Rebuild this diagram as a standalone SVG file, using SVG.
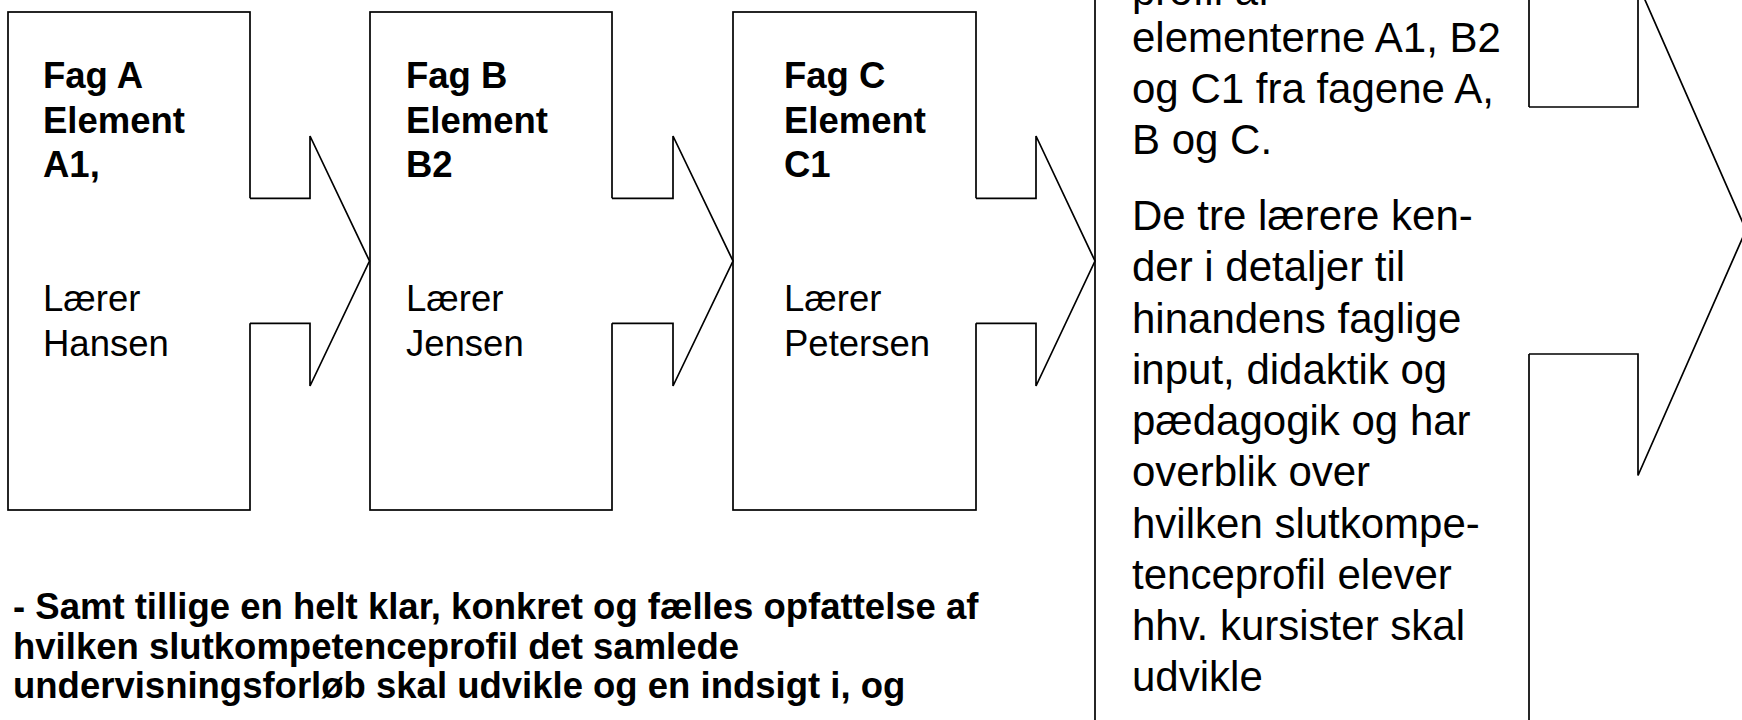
<svg xmlns="http://www.w3.org/2000/svg" width="1742" height="720" viewBox="0 0 1742 720">
<style>
.box{fill:#fff;stroke:#000;stroke-width:1.7}
.line{fill:none;stroke:#000;stroke-width:1.7;stroke-linejoin:miter}
.cover{fill:#fff;stroke:none}
text{font-family:"Liberation Sans",Arial,Helvetica,sans-serif;fill:#000}
.b{font-weight:bold;font-size:36.5px}
.r{font-size:36.5px}
.tb{font-size:42px}
.bot{font-weight:bold;font-size:36.5px}
</style>
<rect width="1742" height="720" fill="#fff"/>
<g id="node-a">
<rect class="box" x="8" y="12" width="242" height="498"/>
<text class="b"><tspan x="43" y="88">Fag A</tspan><tspan x="43" y="132.5">Element</tspan><tspan x="43" y="177">A1,</tspan></text>
<text class="r"><tspan x="43" y="311">Lærer</tspan><tspan x="43" y="356">Hansen</tspan></text>
</g>
<g id="node-b">
<rect class="box" x="370" y="12" width="242" height="498"/>
<text class="b"><tspan x="406" y="88">Fag B</tspan><tspan x="406" y="132.5">Element</tspan><tspan x="406" y="177">B2</tspan></text>
<text class="r"><tspan x="406" y="311">Lærer</tspan><tspan x="406" y="356">Jensen</tspan></text>
</g>
<g id="node-c">
<rect class="box" x="733" y="12" width="243" height="498"/>
<text class="b"><tspan x="784" y="88">Fag C</tspan><tspan x="784" y="132.5">Element</tspan><tspan x="784" y="177">C1</tspan></text>
<text class="r"><tspan x="784" y="311">Lærer</tspan><tspan x="784" y="356">Petersen</tspan></text>
</g>
<g id="node-text">
<rect class="box" x="1095" y="-10" width="434" height="740"/>
<text class="tb">
<tspan x="1132" y="5">profil af</tspan>
<tspan x="1132" y="51.5">elementerne A1, B2</tspan>
<tspan x="1132" y="102.5">og C1 fra fagene A,</tspan>
<tspan x="1132" y="154">B og C.</tspan>
<tspan x="1132" y="229.5">De tre lærere ken-</tspan>
<tspan x="1132" y="281">der i detaljer til</tspan>
<tspan x="1132" y="332.5">hinandens faglige</tspan>
<tspan x="1132" y="384">input, didaktik og</tspan>
<tspan x="1132" y="435">pædagogik og har</tspan>
<tspan x="1132" y="486">overblik over</tspan>
<tspan x="1132" y="537.5">hvilken slutkompe-</tspan>
<tspan x="1132" y="589">tenceprofil elever</tspan>
<tspan x="1132" y="640">hhv. kursister skal</tspan>
<tspan x="1132" y="691">udvikle</tspan>
</text>
</g>
<g id="connectors">
<path class="cover" d="M248,198.3 H310 V136 L369.5,261 L310,386 V323.3 H248 Z"/>
<path class="line" d="M250,198.3 H310 V136 L369.5,261 L310,386 V323.3 H250"/>
<path class="cover" d="M610,198.3 H673 V136 L733,261 L673,386 V323.3 H610 Z"/>
<path class="line" d="M612,198.3 H673 V136 L733,261 L673,386 V323.3 H612"/>
<path class="cover" d="M974,198.3 H1036 V136 L1095,261 L1036,386 V323.3 H974 Z"/>
<path class="line" d="M976,198.3 H1036 V136 L1095,261 L1036,386 V323.3 H976"/>
<path class="cover" d="M1527,107 H1638 V-16 L1746,230 L1638,475.5 V354 H1527 Z"/>
<path class="line" d="M1529,107 H1638 V-16 L1746,230 L1638,475.5 V354 H1529"/>
</g>
<g id="note">
<text class="bot"><tspan x="13" y="619">- Samt tillige en helt klar, konkret og fælles opfattelse af</tspan><tspan x="13" y="658.5">hvilken slutkompetenceprofil det samlede</tspan><tspan x="13" y="698">undervisningsforløb skal udvikle og en indsigt i, og</tspan></text>
</g>
</svg>
